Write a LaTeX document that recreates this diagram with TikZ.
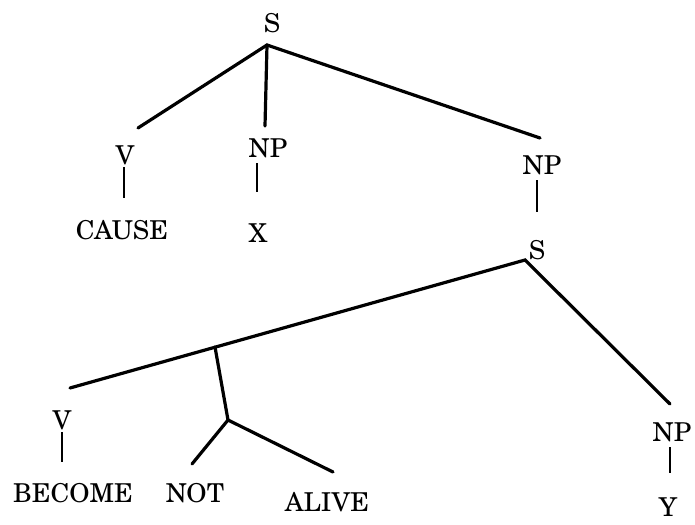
\documentclass[tikz,border=0pt]{standalone}
\usepackage{fontspec}
\setmainfont{TeX Gyre Schola}
\begin{document}
\begin{tikzpicture}[x = 1pt, y = -1pt,
		every node/.style = {inner sep = 0pt, font = \fontsize{26}{30}\selectfont},
		branch/.style = {line width = 3.2pt, line cap = round},
		stem/.style = {line width = 2.8pt}]
			\useasboundingbox (0,0) rectangle (695,524);
			
			\node (s1) at (272,23) {S};
			\node (v1) at (125,155) {V};
			\node (np1) at (268,148) {NP};
			\node (np2) at (542,165) {NP};
			\node (cause) at (122,230) {CAUSE};
			\node (x) at (258,233) {X};
			\node (s2) at (537,250) {S};
			\node (v2) at (62,420) {V};
			\node (np3) at (672,432) {NP};
			\node (become) at (73,493) {BECOME};
			\node (not) at (195,493) {NOT};
			\node (alive) at (327,502) {ALIVE};
			\node (y) at (668,507) {Y};
			
			\coordinate (s1j) at (267,45);
			\coordinate (v1t) at (138,128);
			\coordinate (np1t) at (265,126);
			\coordinate (np2t) at (540,138);
			\coordinate (s2j) at (525,260);
			\coordinate (v2t) at (70,388);
			\coordinate (negt) at (215,347);
			\coordinate (negj) at (228,420);
			\coordinate (nott) at (192,464);
			\coordinate (alivet) at (333,472);
			\coordinate (np3t) at (670,404);
			
			\coordinate (v1a) at (124,167);
			\coordinate (v1b) at (124,198);
			\coordinate (np1a) at (257,163);
			\coordinate (np1b) at (257,192);
			\coordinate (np2a) at (537,180);
			\coordinate (np2b) at (537,212);
			\coordinate (v2a) at (62,432);
			\coordinate (v2b) at (62,462);
			\coordinate (np3a) at (670,447);
			\coordinate (np3b) at (670,473);
			
			\draw[branch] (v1t) -- (s1j) -- (np2t);
			\draw[branch] (s1j) -- (np1t);
			\draw[branch] (v2t) -- (s2j) -- (np3t);
			\draw[branch] (negt) -- (negj);
			\draw[branch] (nott) -- (negj) -- (alivet);
			
			\draw[stem] (v1a) -- (v1b);
			\draw[stem] (np1a) -- (np1b);
			\draw[stem] (np2a) -- (np2b);
			\draw[stem] (v2a) -- (v2b);
			\draw[stem] (np3a) -- (np3b);
		\end{tikzpicture}
\end{document}
